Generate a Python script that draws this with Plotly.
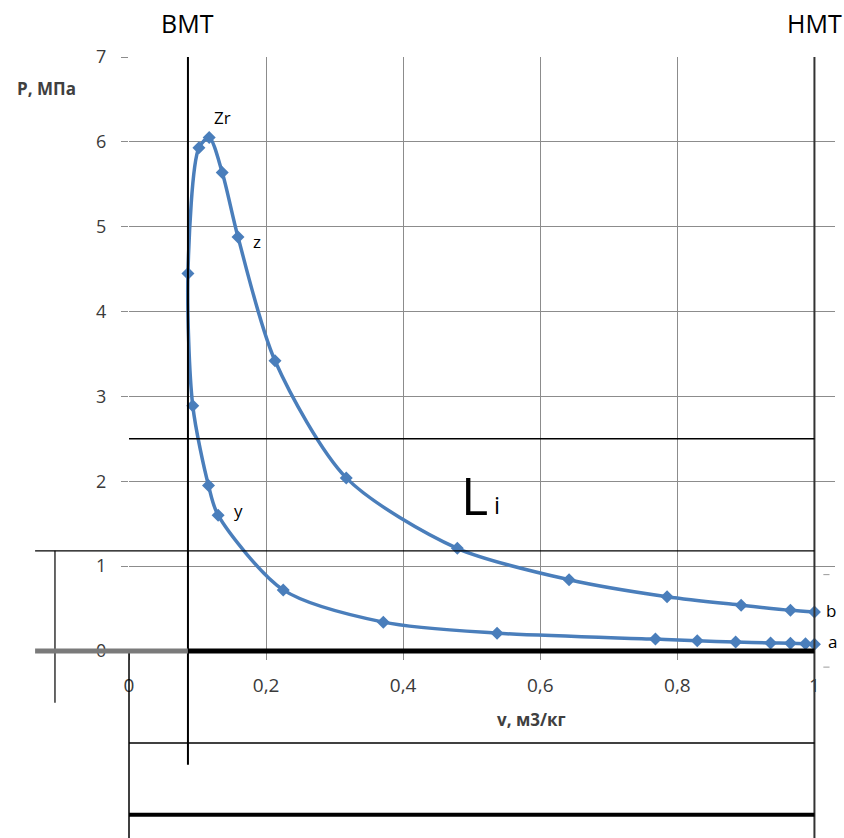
import plotly.graph_objects as go

# ---- data ----
v_comp = [1.0, 0.987, 0.965, 0.936, 0.885, 0.829, 0.768, 0.537, 0.371, 0.225, 0.130, 0.116, 0.093, 0.086]
p_comp = [0.08, 0.085, 0.09, 0.095, 0.105, 0.12, 0.14, 0.21, 0.34, 0.72, 1.60, 1.95, 2.89, 4.45]
v_exp = [0.086, 0.102, 0.117, 0.136, 0.159, 0.213, 0.317, 0.479, 0.642, 0.785, 0.893, 0.965, 1.0]
p_exp = [4.45, 5.93, 6.05, 5.64, 4.88, 3.42, 2.04, 1.21, 0.84, 0.64, 0.54, 0.48, 0.46]

point_labels = ["Zr", "z", "y", "b", "a"]
point_v = [0.117, 0.159, 0.130, 1.0, 1.0]
point_p = [6.05, 4.88, 1.60, 0.46, 0.08]

x_ticks = [0, 0.2, 0.4, 0.6, 0.8, 1.0]
y_ticks = [0, 1, 2, 3, 4, 5, 6, 7]

v_bmt = 0.086
v_nmt = 1.0

X0, X1 = 0.0, 1.03
Y0, Y1 = 0.0, 7.0

BLUE = "#4A7EBB"
GRID = "#8c8c8c"
FONT = "Open Sans, Liberation Sans, sans-serif"

ML, MR, MT, MB, W, H = 129, 9, 57, 187, 844, 838
PW, PH = W - ML - MR, H - MT - MB


def fx(v):
    return (v - X0) / (X1 - X0)


def fy(p):
    return (p - Y0) / (Y1 - Y0)


v_all = v_comp + v_exp[1:]
p_all = p_comp + p_exp[1:]

fig = go.Figure()
fig.add_trace(go.Scatter(
    x=v_all, y=p_all, mode="lines+markers",
    line=dict(color=BLUE, width=3.5, shape="spline", smoothing=0.8),
    marker=dict(symbol="diamond", size=10, color=BLUE),
    hoverinfo="x+y",
))

shapes = []


def seg(x0, y0, x1, y1, color="black", width=1.5):
    shapes.append(dict(type="line", xref="paper", yref="paper",
                       x0=fx(x0), y0=fy(y0), x1=fx(x1), y1=fy(y1),
                       line=dict(color=color, width=width), layer="above"))


BOTTOM = -2.25
seg(v_bmt, 7, v_bmt, -1.34, width=2)           # ВМТ
seg(0, 0, 0, BOTTOM, width=1.5)                # extended y axis
seg(v_nmt, 7, v_nmt, BOTTOM, color="#333333", width=2)  # НМТ
seg(0, 2.5, 1.0, 2.5, width=1.5)
seg(-0.137, 1.18, 1.0, 1.18, width=1.2)
seg(-0.108, 1.18, -0.108, -0.61, width=1.2)
seg(-0.137, 0, v_bmt, 0, color="#7a7a7a", width=5)
seg(v_bmt, 0, 1.0, 0, width=5)
seg(0, -1.084, 1.0, -1.084, width=1.5)
seg(0, -1.93, 1.0, -1.93, width=4)
seg(1.013, 0.9, 1.022, 0.9, color="#9a9a9a", width=1)
seg(1.013, -0.19, 1.022, -0.19, color="#9a9a9a", width=1)

annotations = []
for t, v, p, dx, dy in zip(point_labels, point_v, point_p,
                           [13, 19, 20, 17, 18], [20, -5, 5, 1, 3]):
    annotations.append(dict(x=v, y=p, xref="x", yref="y", text=t, showarrow=False,
                            xshift=dx, yshift=dy, xanchor="center", yanchor="middle",
                            font=dict(size=17, color="black", family=FONT)))

annotations += [
    dict(x=fx(v_bmt), y=(H - MB - 23) / PH, xref="paper", yref="paper", text="ВМТ",
         showarrow=False, xanchor="center", yanchor="middle",
         font=dict(size=25, color="black", family=FONT)),
    dict(x=fx(v_nmt), y=(H - MB - 23) / PH, xref="paper", yref="paper", text="НМТ",
         showarrow=False, xanchor="center", yanchor="middle",
         font=dict(size=25, color="black", family=FONT)),
    dict(x=(46 - ML) / PW, y=(H - MB - 88) / PH, xref="paper", yref="paper", text="<b>P, МПа</b>",
         showarrow=False, xanchor="center", yanchor="middle",
         font=dict(size=17, color="#404040", family=FONT)),
    dict(x=(531 - ML) / PW, y=(H - MB - 719) / PH, xref="paper", yref="paper", text="<b>v, м3/кг</b>",
         showarrow=False, xanchor="center", yanchor="middle",
         font=dict(size=17, color="#404040", family=FONT)),
    dict(x=0.527, y=1.85, xref="x", yref="y", text="L", showarrow=False,
         xanchor="right", yanchor="middle", font=dict(size=52, color="black", family=FONT)),
    dict(x=0.530, y=1.73, xref="x", yref="y", text="i", showarrow=False,
         xanchor="left", yanchor="middle", font=dict(size=24, color="black", family=FONT)),
]

fig.update_layout(
    width=W, height=H,
    margin=dict(l=ML, r=MR, t=MT, b=MB),
    plot_bgcolor="white", paper_bgcolor="white",
    showlegend=False,
    separators=", ",
    font=dict(family=FONT),
    shapes=shapes,
    annotations=annotations,
    xaxis=dict(range=[X0, X1], tickvals=x_ticks, showgrid=True, gridcolor=GRID, gridwidth=1,
               zeroline=False, showline=False, ticks="outside", ticklen=8, tickcolor=GRID,
               ticklabelstandoff=9, tickfont=dict(size=19, color="#3a3a3a")),
    yaxis=dict(range=[Y0, Y1], tickvals=y_ticks, showgrid=True, gridcolor=GRID, gridwidth=1,
               zeroline=False, showline=False, ticks="outside", ticklen=7, tickcolor=GRID,
               ticklabelstandoff=11, tickfont=dict(size=18, color="#3a3a3a")),
)

fig.write_html("out.html")
